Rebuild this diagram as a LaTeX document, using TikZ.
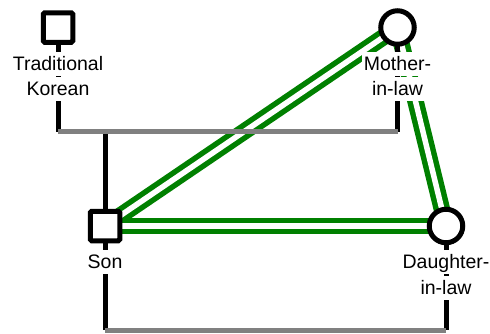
\documentclass[tikz,border=0pt]{standalone}
\usepackage{fontspec}
\setmainfont{Liberation Sans}
\usetikzlibrary{positioning,backgrounds}

\begin{document}
\begin{tikzpicture}[
    x=1pt, y=-1pt,
    male/.style={rectangle, draw, line width=5pt, fill=white, minimum size=29.5pt, rounded corners=1.5pt},
    female/.style={circle, draw, line width=5pt, fill=white, minimum size=33.5pt},
    lbl/.style={fill=white, inner sep=1.5pt, text height=17pt, text depth=4pt, font=\fontsize{19.5}{24}\selectfont},
    descent/.style={line width=5pt},
    union/.style={line width=5pt, gray},
    bond/.style={line width=5.5pt, draw=green!50!black, double=white, double distance=5.5pt}
]
    \useasboundingbox (0,0) rectangle (490,333);

    % People
    \node[male] (trad) at (58,27.5) {};
    \node[female] (mil) at (397.5,27.5) {};
    \node[male] (son) at (105,226) {};
    \node[female] (dil) at (446,226) {};

    % Labels
    \node[lbl, below=24pt of trad.center] (trad-l1) {Traditional};
    \node[lbl, below=1pt of trad-l1] (trad-l2) {Korean};
    \node[lbl, below=24pt of mil.center] (mil-l1) {Mother-};
    \node[lbl, below=1pt of mil-l1] (mil-l2) {in-law};
    \node[lbl, below=24pt of son.center] (son-l1) {Son};
    \node[lbl, below=24pt of dil.center] (dil-l1) {Daughter-};
    \node[lbl, below=1pt of dil-l1] (dil-l2) {in-law};

    \coordinate (m1) at (0,131.5);
    \coordinate (m2) at (0,330);

    \begin{scope}[on background layer]
        % Relationships
        \foreach \a/\b in {son/mil, son/dil, mil/dil}
            \draw[bond] (\a.center) -- (\b.center);
        % Descent lines
        \foreach \p/\m in {trad/m1, mil/m1, son/m1, son/m2, dil/m2}
            \draw[descent] (\p.center) -- (\p |- \m);
        % Unions
        \draw[union] (trad |- m1) -- (mil |- m1);
        \draw[union] (son |- m2) -- (dil |- m2);
    \end{scope}
\end{tikzpicture}
\end{document}
